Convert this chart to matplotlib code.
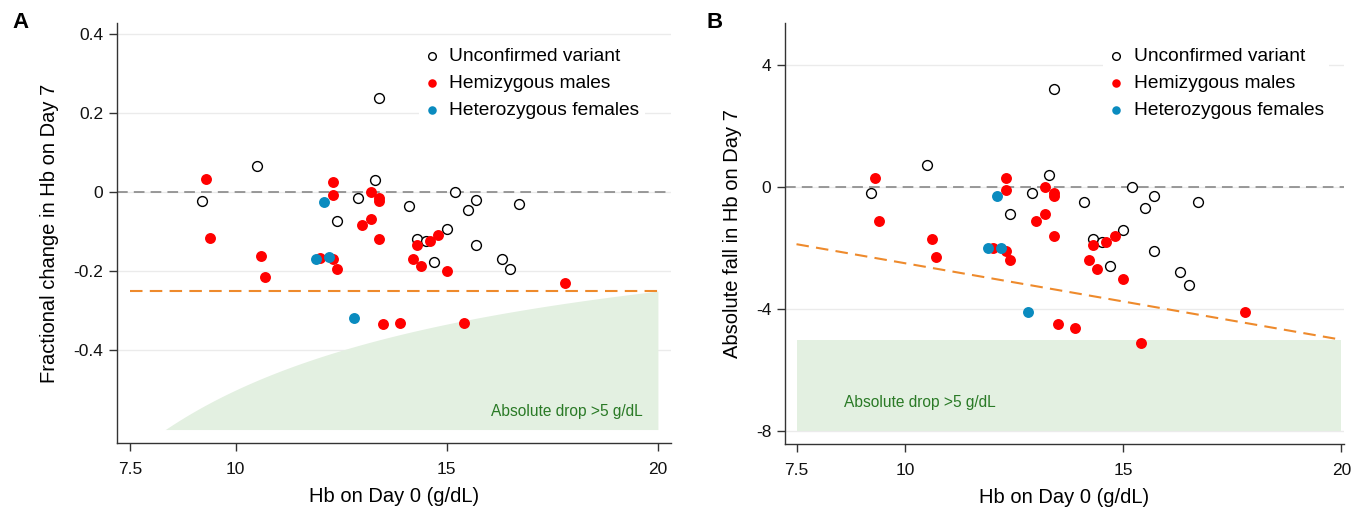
import matplotlib
matplotlib.use('Agg')
import matplotlib.pyplot as plt
import numpy as np

plt.rcParams['font.family'] = ['Liberation Sans', 'DejaVu Sans']
plt.rcParams['axes.unicode_minus'] = False

# Hb on day 0 (g/dL), fractional change and absolute fall on day 7
hb0_unconf = [9.2, 10.5, 13.4, 13.3, 12.9, 12.4, 14.1, 15.2, 15.7, 15.5, 16.7, 15.0,
              14.3, 14.5, 15.7, 14.7, 16.3, 16.5]
frac_unconf = [-0.021, 0.067, 0.239, 0.030, -0.015, -0.072, -0.034, 0.001, -0.019, -0.045,
               -0.029, -0.093, -0.117, -0.123, -0.133, -0.176, -0.170, -0.193]
fall_unconf = [-0.2, 0.7, 3.2, 0.4, -0.2, -0.9, -0.5, 0.0, -0.3, -0.7, -0.5, -1.4,
               -1.7, -1.8, -2.1, -2.6, -2.8, -3.2]

hb0_hemi = [9.3, 9.4, 10.6, 10.7, 12.3, 12.3, 12.0, 12.3, 12.4, 13.2, 13.4, 13.4, 13.2,
            13.0, 13.4, 14.3, 14.6, 14.8, 14.2, 14.4, 15.0, 17.8, 13.5, 13.9, 15.4]
frac_hemi = [0.033, -0.116, -0.160, -0.214, 0.025, -0.008, -0.166, -0.170, -0.193, 0.001,
             -0.014, -0.023, -0.067, -0.084, -0.118, -0.133, -0.122, -0.107, -0.168, -0.187,
             -0.200, -0.229, -0.332, -0.330, -0.330]
fall_hemi = [0.3, -1.1, -1.7, -2.3, 0.3, -0.1, -2.0, -2.1, -2.4, 0.0, -0.2, -0.3, -0.9,
             -1.1, -1.6, -1.9, -1.8, -1.6, -2.4, -2.7, -3.0, -4.1, -4.5, -4.6, -5.1]

hb0_hetero = [12.1, 11.9, 12.2, 12.8]
frac_hetero = [-0.024, -0.168, -0.164, -0.319]
fall_hetero = [-0.3, -2.0, -2.0, -4.1]

labels = ['Unconfirmed variant', 'Hemizygous males', 'Heterozygous females']

# thresholds
frac_cut = -0.25
abs_cut = -5.0

RED = '#ff0000'
BLUE = '#0a8bbf'
ORANGE = '#ee8a2c'
FILL = '#e3f0e1'
DKGREEN = '#2a7a26'
AXCOL = '#333333'

fig = plt.figure(figsize=(13.64, 5.08), dpi=100)
axA = fig.add_axes([117 / 1364, 65 / 508, 554 / 1364, 420 / 508])
axB = fig.add_axes([785 / 1364, 64 / 508, 559 / 1364, 421 / 508])


def style(ax):
    for s in ['top', 'right']:
        ax.spines[s].set_visible(False)
    for s in ['left', 'bottom']:
        ax.spines[s].set_color(AXCOL)
        ax.spines[s].set_linewidth(1.0)
    ax.tick_params(direction='out', length=5.75, width=1, color=AXCOL, labelsize=12.5,
                   labelcolor='#111111')
    ax.tick_params(axis='x', pad=7.8)
    ax.tick_params(axis='y', pad=4.2)
    ax.yaxis.grid(True, color='#ebebeb', linewidth=1)
    ax.set_axisbelow(True)
    ax.set_xticks([7.5, 10, 15, 20])
    ax.set_xticklabels(['7.5', '10', '15', '20'])
    ax.set_xlabel('Hb on Day 0 (g/dL)', fontsize=14.5, labelpad=7.5)


def points(ax, x1, y1, x2, y2, x3, y3, xanchor):
    ax.scatter(x1, y1, s=50, facecolors='white', edgecolors='black', linewidths=1.0,
               zorder=4, label=labels[0])
    ax.scatter(x2, y2, s=62, color=RED, linewidths=0, zorder=5, label=labels[1])
    ax.scatter(x3, y3, s=62, color=BLUE, linewidths=0, zorder=6, label=labels[2])
    leg = ax.legend(loc='upper right', bbox_to_anchor=(xanchor, 0.978), fontsize=13.8,
                    frameon=True, fancybox=False, framealpha=1, edgecolor='none',
                    handlelength=0.8, handletextpad=0.5, labelspacing=0.51,
                    borderpad=0.3, scatterpoints=1, markerscale=0.78)
    leg.set_zorder(3)


# ---- panel A : fractional change ----
axA.set_xlim(7.19, 20.31)
axA.set_ylim(-0.634, 0.428)
style(axA)
axA.set_yticks([-0.4, -0.2, 0, 0.2, 0.4])
axA.set_yticklabels(['-0.4', '-0.2', '0', '0.2', '0.4'])
axA.set_ylabel('Fractional change in Hb on Day 7', fontsize=14.5, labelpad=10)

xx = np.linspace(-abs_cut / 0.6, 20, 200)
axA.fill_between(xx, -0.6, abs_cut / xx, color=FILL, linewidth=0, zorder=1)
axA.axhline(0, color='#7f7f7f', linestyle=(0, (7, 4)), linewidth=1.1, zorder=2)
axA.plot([7.5, 20], [frac_cut, frac_cut], color=ORANGE, linestyle=(0, (6, 3.5)),
         linewidth=1.5, zorder=2)
axA.text(19.65, -0.554, 'Absolute drop >5 g/dL', color=DKGREEN, fontsize=11.2,
         ha='right', va='center', zorder=3)
points(axA, hb0_unconf, frac_unconf, hb0_hemi, frac_hemi, hb0_hetero, frac_hetero, 0.9706)

# ---- panel B : absolute fall ----
axB.set_xlim(7.236, 20.06)
axB.set_ylim(-8.41, 5.36)
style(axB)
axB.set_yticks([-8, -4, 0, 4])
axB.set_ylabel('Absolute fall in Hb on Day 7', fontsize=14.5, labelpad=10)

axB.fill_between([7.5, 20], -8, abs_cut, color=FILL, linewidth=0, zorder=1)
axB.axhline(0, color='#7f7f7f', linestyle=(0, (7, 4)), linewidth=1.1, zorder=2)
xl = np.array([7.5, 20])
axB.plot(xl, frac_cut * xl, color=ORANGE, linestyle=(0, (6, 3.5)), linewidth=1.5, zorder=2)
axB.text(8.58, -7.06, 'Absolute drop >5 g/dL', color=DKGREEN, fontsize=11.2,
         ha='left', va='center', zorder=3)
points(axB, hb0_unconf, fall_unconf, hb0_hemi, fall_hemi, hb0_hetero, fall_hetero, 0.991)

fig.text(12 / 1364, 1 - 22 / 508, 'A', fontsize=16, fontweight='bold', va='center')
fig.text(706 / 1364, 1 - 22 / 508, 'B', fontsize=16, fontweight='bold', va='center')

plt.savefig('out.png', dpi=100)
